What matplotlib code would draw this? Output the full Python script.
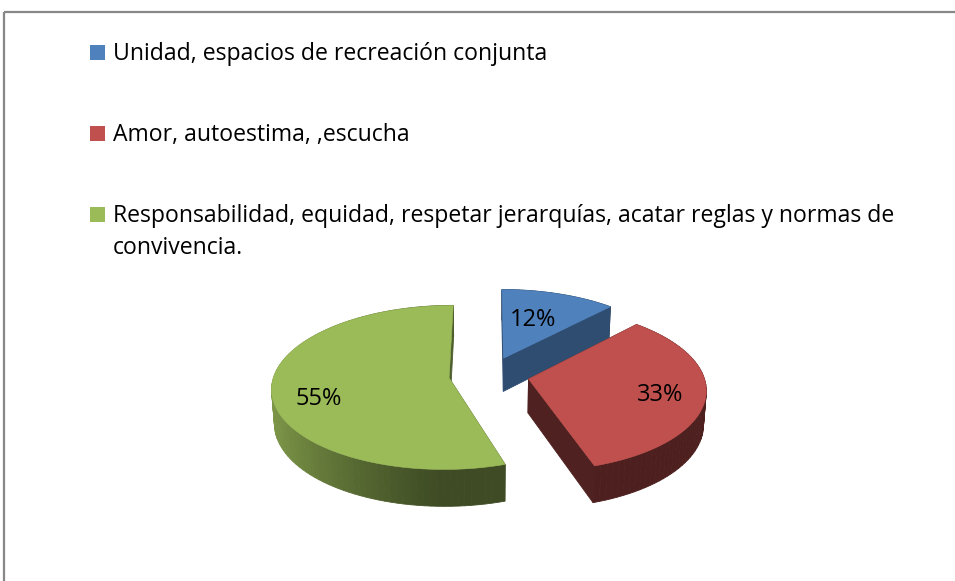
import numpy as np
import matplotlib
matplotlib.use("Agg")
import matplotlib.pyplot as plt
from matplotlib.patches import Polygon, Rectangle
from matplotlib.colors import to_rgb

labels = ["Unidad, espacios de recreación conjunta",
          "Amor, autoestima, ,escucha",
          "Responsabilidad, equidad, respetar jerarquías, acatar reglas y normas de\nconvivencia."]
values = [12, 33, 55]
colors = ["#4F81BD", "#C0504D", "#9BBB59"]

plt.rcParams['font.family'] = ['Open Sans', 'DejaVu Sans']

# 3d pie layout, in pixels / unit radius
cx, cy = 489, 375
R = 175
elev = np.radians(27.3)
cam = 7.7
height = 0.22
explode = 0.23
label_r = [0.5, 0.75, 0.74]
label_dy = [-4, 2, 12]
cut_shade = [0.6, 0.41, 0.5]


def project(X, Y, Z):
    X = np.atleast_1d(np.asarray(X, float))
    Y = np.atleast_1d(np.asarray(Y, float))
    Z = np.atleast_1d(np.asarray(Z, float))
    v = Y * np.sin(elev) + Z * np.cos(elev)
    w = -Y * np.cos(elev) + Z * np.sin(elev)
    s = cam / (cam - w)
    return np.column_stack([cx + R * X * s, cy - R * v * s]), w


def shade(col, f):
    return tuple(np.clip(np.array(to_rgb(col)) * f, 0, 1))


def side_factor(t):
    return 0.4 + 0.42 * np.clip(-np.sin(t), 0, 1) ** 1.2


fig, ax = plt.subplots(figsize=(9.55, 5.81), dpi=100)
ax.set_position([0, 0, 1, 1])
ax.set_xlim(0, 955)
ax.set_ylim(581, 0)
ax.axis('off')

# chart area border
ax.add_patch(Rectangle((4, 12), 1200, 1200, fill=False, edgecolor='#878787', lw=1.6))

fracs = np.array(values, float) / sum(values)
bounds = np.concatenate([[0], np.cumsum(fracs)]) * 2 * np.pi

slices = []
for i in range(len(values)):
    t1, t2 = bounds[i], bounds[i + 1]
    tm = (t1 + t2) / 2
    ox, oy = explode * np.sin(tm), explode * np.cos(tm)
    _, wc = project(ox, oy, 0)
    slices.append((float(wc[0]), i, t1, t2, tm, ox, oy))

for wc, i, t1, t2, tm, ox, oy in sorted(slices):
    col = colors[i]
    n = max(int((t2 - t1) / np.radians(2)), 4)
    arc = np.linspace(t1, t2, n + 1)
    ax_, ay_ = ox + np.sin(arc), oy + np.cos(arc)
    top, wtop = project(ax_, ay_, np.zeros_like(arc))
    bot, wbot = project(ax_, ay_, -height * np.ones_like(arc))
    ctop, _ = project(ox, oy, 0)
    cbot, _ = project(ox, oy, -height)

    faces = []
    for k in range(n):
        quad = [top[k], top[k + 1], bot[k + 1], bot[k]]
        fc = shade(col, side_factor((arc[k] + arc[k + 1]) / 2))
        faces.append(((wtop[k] + wtop[k + 1]) / 2, quad, fc))
    for j in (0, n):
        quad = [ctop[0], top[j], bot[j], cbot[0]]
        faces.append((wtop[j] / 2 - 0.01, quad, shade(col, cut_shade[i])))

    for _, quad, fc in sorted(faces, key=lambda f: f[0]):
        ax.add_patch(Polygon(quad, closed=True, facecolor=fc, edgecolor=fc, lw=0.6))

    ax.add_patch(Polygon(np.vstack([ctop, top]), closed=True,
                         facecolor=col, edgecolor=col, lw=0.4))

    lp, _ = project(ox + label_r[i] * np.sin(tm), oy + label_r[i] * np.cos(tm), 0)
    ax.text(lp[0, 0], lp[0, 1] + label_dy[i], f"{values[i]}%", fontsize=17,
            ha='center', va='center', color='black')

# legend
legend_base = [60, 141, 222]
for i, lab in enumerate(labels):
    y = legend_base[i]
    ax.add_patch(Rectangle((90, y - 15), 15, 15, facecolor=colors[i], edgecolor='none'))
    for k, line in enumerate(lab.split("\n")):
        ax.text(113, y + 32 * k, line, fontsize=16.6, ha='left', va='baseline', color='black')

fig.savefig("out.png", dpi=100)
